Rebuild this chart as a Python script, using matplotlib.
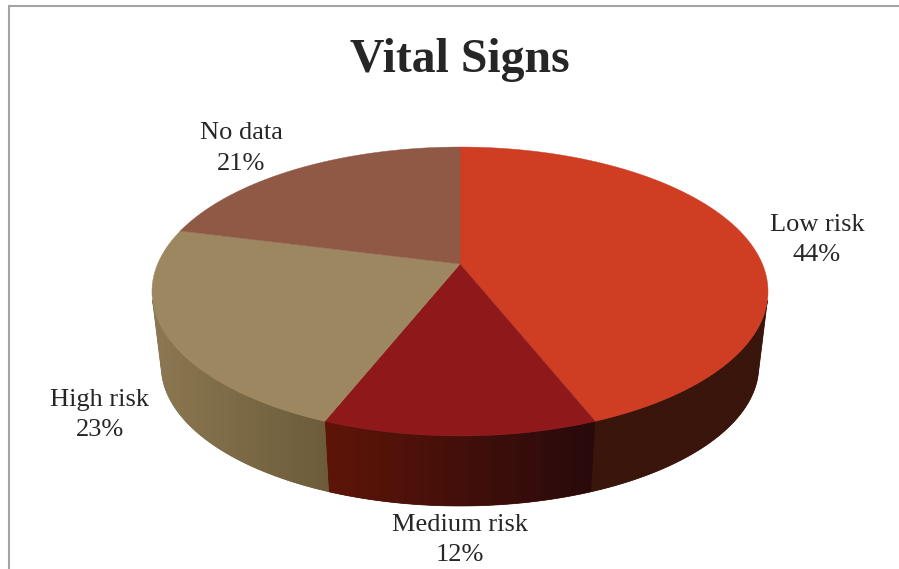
import numpy as np
import matplotlib
matplotlib.use("Agg")
import matplotlib.pyplot as plt
from matplotlib.colors import to_rgb
from matplotlib.patches import Polygon

categories = ["Low risk", "Medium risk", "High risk", "No data"]
shares = [44, 12, 23, 21]

top_colors = ["#cf3d23", "#8f181b", "#9c8761", "#8f5945"]
# colour of the side wall at the left and right end of each slice
side_left = ["#3a150b", "#5f1508", "#8c7852", "#6e4435"]
side_right = ["#3a150b", "#280a0c", "#6c5c3a", "#6e4435"]

# label anchor in pixels, same order as categories
label_pos = [(817, 240), (460, 540), (100, 415), (241, 148.5)]

plt.rcParams["font.family"] = ["Liberation Serif"]

# perspective of the pie disc, fitted on the picture
CX, CY = 460, 264
PERSP = 0.1903
RX = 302.4
RY = -89.0
WALL_SCALE = 0.97
WALL_SHIFT = 83.1
# the wall can be seen only between these angles
WALL_FROM = np.radians(104.4)
WALL_TO = np.radians(255.6)


def project(theta):
    # theta clockwise from 12 o'clock
    u, v = np.sin(theta), np.cos(theta)
    d = 1 + PERSP * v
    return CX + RX * u / d, (RY * v + CY) / d


def project_low(theta):
    x, y = project(theta)
    return CX + (x - CX) * WALL_SCALE, y * WALL_SCALE + WALL_SHIFT


fig = plt.figure(figsize=(8.99, 5.69), dpi=100)
ax = fig.add_axes([0, 0, 1, 1])

# chart frame, only left and top are visible in the crop
ax.plot([8.7, 8.7, 899], [569, 5.7, 5.7], color="#a5a3a8", lw=1.5, solid_joinstyle="miter")

edges = np.cumsum([0] + shares) / sum(shares) * 2 * np.pi

# side wall first, the top is drawn over it
for i in range(len(shares)):
    start, end = max(edges[i], WALL_FROM), min(edges[i + 1], WALL_TO)
    if end <= start:
        continue
    th = np.linspace(start, end, 120)
    xt, yt = project(th)
    xb, yb = project_low(th)
    px = np.concatenate([xt, xb[::-1]])
    py = np.concatenate([yt, yb[::-1]])
    c0, c1 = np.array(to_rgb(side_left[i])), np.array(to_rgb(side_right[i]))
    # plain backing so the clipped gradient leaves no light seam
    ax.add_patch(Polygon(np.column_stack([px, py]), closed=True, facecolor=(c0 + c1) / 2,
                         edgecolor=(c0 + c1) / 2, lw=0.5, zorder=1.5))
    wall = Polygon(np.column_stack([px, py]), closed=True, facecolor="none", edgecolor="none")
    ax.add_patch(wall)
    # horizontal gradient clipped to the wall shape
    ramp = np.linspace(c0, c1, 256)[None, :, :]
    im = ax.imshow(ramp, extent=[px.min(), px.max(), py.max(), py.min()],
                   aspect="auto", interpolation="bilinear", zorder=2)
    im.set_clip_path(wall)

for i in range(len(shares)):
    th = np.linspace(edges[i], edges[i + 1], 120)
    x, y = project(th)
    pts = [(CX, CY)] + list(zip(x, y))
    ax.add_patch(Polygon(pts, closed=True, facecolor=top_colors[i],
                         edgecolor=top_colors[i], lw=0.3, zorder=3))

ax.set_xlim(0, 899)
ax.set_ylim(569, 0)
ax.axis("off")

ax.text(460, 60, "Vital Signs", ha="center", va="center", fontsize=34.4,
        fontweight="bold", color="#262626", zorder=5)

for name, val, (lx, ly) in zip(categories, shares, label_pos):
    ax.text(lx, ly, f"{name}\n{val}%", ha="center", va="center", fontsize=19,
            color="#262626", linespacing=1.52, zorder=5)

fig.savefig("out.png", dpi=100)
